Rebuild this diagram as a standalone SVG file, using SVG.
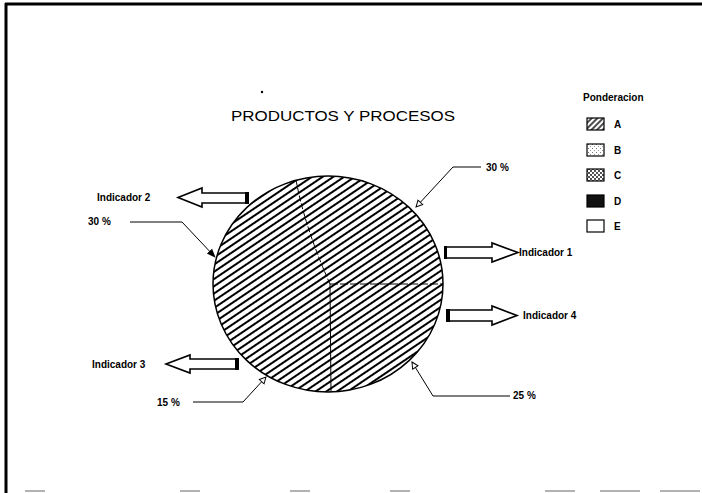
<svg xmlns="http://www.w3.org/2000/svg" width="702" height="493" viewBox="0 0 702 493">
  <defs>
    <pattern id="hatchA" patternUnits="userSpaceOnUse" width="8" height="6" patternTransform="rotate(-34)">
      <rect width="8" height="6" fill="#fff"/>
      <line x1="0" y1="3" x2="8" y2="3" stroke="#000" stroke-width="2"/>
    </pattern>
    <pattern id="hatchSmall" patternUnits="userSpaceOnUse" width="4" height="4" patternTransform="rotate(-45)">
      <rect width="4" height="4" fill="#fff"/>
      <line x1="0" y1="2" x2="4" y2="2" stroke="#000" stroke-width="1.4"/>
    </pattern>
    <pattern id="speckB" patternUnits="userSpaceOnUse" width="4" height="4">
      <rect width="4" height="4" fill="#fff"/>
      <rect x="0" y="0" width="1" height="1" fill="#777"/>
      <rect x="2" y="2" width="1" height="1" fill="#999"/>
    </pattern>
    <pattern id="dotC" patternUnits="userSpaceOnUse" width="4" height="4">
      <rect width="4" height="4" fill="#fff"/>
      <circle cx="1" cy="1" r="0.9" fill="#000"/>
      <circle cx="3" cy="3" r="0.9" fill="#000"/>
    </pattern>
    <marker id="openHead" viewBox="0 0 10 10" refX="9" refY="5" markerWidth="8" markerHeight="8" orient="auto" markerUnits="userSpaceOnUse">
      <path d="M1,1 L9,5 L1,9 Z" fill="#fff" stroke="#000" stroke-width="1.2"/>
    </marker>
    <marker id="solidHead" viewBox="0 0 10 10" refX="9" refY="5" markerWidth="9" markerHeight="9" orient="auto" markerUnits="userSpaceOnUse">
      <path d="M0,1 L10,5 L0,9 Z" fill="#000"/>
    </marker>
  </defs>
  <style>
    .lbl { font-family: "Liberation Sans", Arial, sans-serif; font-size: 10px; font-weight: bold; fill: #000; }
    .ttl { font-family: "Liberation Sans", Arial, sans-serif; font-size: 14px; fill: #000; }
    .lead { fill: none; stroke: #000; stroke-width: 1; }
    .blk { fill: #fff; stroke: #000; stroke-width: 1.6; stroke-linejoin: miter; }
    .sw { stroke: #000; stroke-width: 1.2; }
  </style>

  <!-- page frame -->
  <g id="frame">
    <line x1="5" y1="4" x2="702" y2="4" stroke="#000" stroke-width="3"/>
    <line x1="6" y1="3" x2="6" y2="493" stroke="#000" stroke-width="3"/>
    <g stroke="#999" stroke-width="1.5">
      <line x1="25" y1="491" x2="45" y2="491"/>
      <line x1="180" y1="491" x2="200" y2="491"/>
      <line x1="290" y1="491" x2="310" y2="491"/>
      <line x1="390" y1="491" x2="410" y2="491"/>
      <line x1="545" y1="491" x2="575" y2="491"/>
      <line x1="600" y1="491" x2="640" y2="491"/>
      <line x1="660" y1="491" x2="700" y2="491"/>
    </g>
  </g>

  <circle cx="262" cy="92" r="1.2" fill="#000"/>
  <text class="ttl" x="231" y="121" textLength="224" lengthAdjust="spacingAndGlyphs">PRODUCTOS Y PROCESOS</text>

  <!-- pie -->
  <g id="pie">
    <ellipse cx="328" cy="284" rx="115" ry="108" fill="url(#hatchA)" stroke="#000" stroke-width="1.5"/>
    <path d="M296,180 Q305,228 330,284" class="lead" stroke-dasharray="6 2"/>
    <line x1="330" y1="284" x2="443" y2="284" class="lead" stroke-dasharray="8 2"/>
    <line x1="330" y1="284" x2="331" y2="392" class="lead"/>
  </g>

  <!-- legend -->
  <g id="legend">
    <text class="lbl" x="583" y="101">Ponderacion</text>
    <g id="legA"><rect x="587" y="118" width="17" height="12" fill="url(#hatchSmall)" class="sw"/><text class="lbl" x="614" y="128">A</text></g>
    <g id="legB"><rect x="587" y="144" width="17" height="12" fill="url(#speckB)" class="sw"/><text class="lbl" x="614" y="154">B</text></g>
    <g id="legC"><rect x="587" y="169" width="17" height="12" fill="url(#dotC)" class="sw"/><text class="lbl" x="614" y="179">C</text></g>
    <g id="legD"><rect x="587" y="195" width="17" height="12" fill="#111" class="sw"/><text class="lbl" x="614" y="205">D</text></g>
    <g id="legE"><rect x="587" y="220" width="17" height="12" fill="#fff" class="sw"/><text class="lbl" x="614" y="230">E</text></g>
  </g>

  <!-- indicator arrows -->
  <g id="ind1">
    <path class="blk" d="M445,247 L492,247 L492,243 L518,252.5 L492,262 L492,258 L445,258 Z"/>
    <rect x="444" y="246" width="3" height="13" fill="#000"/>
    <text class="lbl" x="519" y="256">Indicador 1</text>
  </g>
  <g id="ind2">
    <path class="blk" d="M248,193 L202,193 L202,188 L178,197.5 L202,207 L202,203 L248,203 Z"/>
    <rect x="245" y="192" width="4" height="12" fill="#000"/>
    <text class="lbl" x="97" y="201">Indicador 2</text>
  </g>
  <g id="ind3">
    <path class="blk" d="M238,359 L190,359 L190,355 L166,364 L190,373 L190,369 L238,369 Z"/>
    <rect x="235" y="358" width="4" height="12" fill="#000"/>
    <text class="lbl" x="92" y="368">Indicador 3</text>
  </g>
  <g id="ind4">
    <path class="blk" d="M447,310 L492,310 L492,306 L517,315.5 L492,325 L492,321 L447,321 Z"/>
    <rect x="446" y="309" width="4" height="13" fill="#000"/>
    <text class="lbl" x="523" y="319">Indicador 4</text>
  </g>

  <!-- percentage callouts -->
  <g id="connectors">
    <path class="lead" d="M481,167 L453,167 L416,207" marker-end="url(#openHead)"/>
    <path class="lead" d="M130,222 L182,222 L215,257" marker-end="url(#solidHead)"/>
    <path class="lead" d="M193,402 L243,402 L266,377" marker-end="url(#openHead)"/>
    <path class="lead" d="M510,396 L433,396 L412,362" marker-end="url(#openHead)"/>
  </g>
  <g id="pct">
    <text class="lbl" x="486" y="171">30 %</text>
    <text class="lbl" x="88" y="225">30 %</text>
    <text class="lbl" x="157" y="406">15 %</text>
    <text class="lbl" x="513" y="399">25 %</text>
  </g>
</svg>
